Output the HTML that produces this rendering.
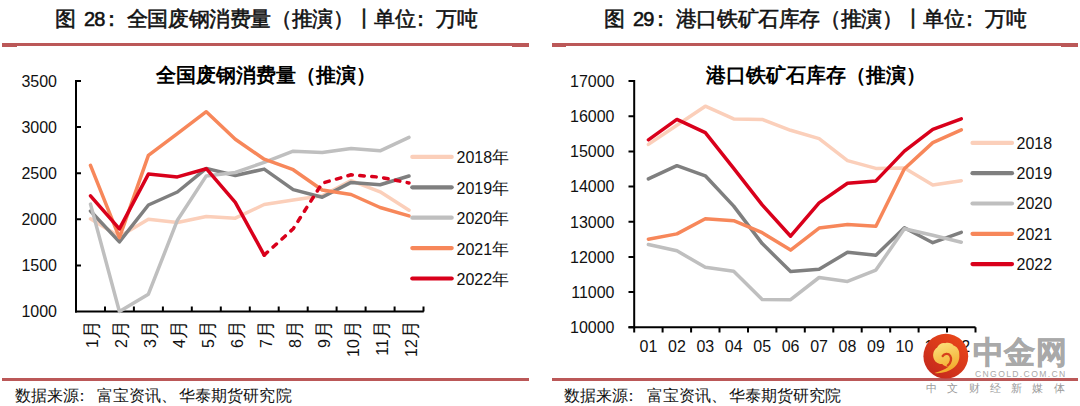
<!DOCTYPE html>
<html><head><meta charset="utf-8"><style>
html,body{margin:0;padding:0;background:#fff;}
body{width:1080px;height:406px;position:relative;overflow:hidden;font-family:"Liberation Sans",sans-serif;}
.t{position:absolute;top:5px;height:28px;line-height:28px;font-size:21px;letter-spacing:-0.37px;font-weight:normal;-webkit-text-stroke:0.55px #111;white-space:nowrap;color:#111;}
.d{font-size:20px;letter-spacing:-0.8px;}
.ct{position:absolute;top:61px;line-height:28px;font-size:19.5px;font-weight:bold;white-space:nowrap;color:#000;}
.hl{position:absolute;background:#bb5858;}
.src{position:absolute;top:385px;line-height:22px;font-size:16px;white-space:nowrap;color:#111;}
svg{position:absolute;left:0;top:0;}
.n{font-size:16px;fill:#111;font-family:"Liberation Sans",sans-serif;}
</style></head><body>
<div class="t" style="left:55px">图</div><div class="t d" style="left:84px">28</div><div class="t" style="left:106px"><span style="position:relative;left:-5.5px">：</span>全国废钢消费量（推演）丨单位<span style="position:relative;left:-5.5px">：</span>万吨</div>
<div class="t" style="left:604px">图</div><div class="t d" style="left:633px">29</div><div class="t" style="left:655px"><span style="position:relative;left:-5.5px">：</span>港口铁矿石库存（推演）丨单位<span style="position:relative;left:-5.5px">：</span>万吨</div>
<div class="hl" style="left:2px;top:43px;width:527px;height:3px"></div>
<div class="hl" style="left:2px;top:46px;width:15px;height:1px"></div>
<div class="hl" style="left:512px;top:46px;width:17px;height:1px"></div>
<div class="hl" style="left:552px;top:43px;width:526px;height:3px"></div>
<div class="hl" style="left:552px;top:46px;width:14px;height:1px"></div>
<div class="hl" style="left:1061px;top:46px;width:17px;height:1px"></div>
<div class="ct" style="left:156px">全国废钢消费量（推演）</div>
<div class="ct" style="left:706px">港口铁矿石库存（推演）</div>
<svg width="1080" height="406" viewBox="0 0 1080 406">
<path d="M76 80.9H81 M76 80V312.5" stroke="#000" stroke-width="2" fill="none"/>
<path d="M76 81.0H81M76 127.1H81M76 173.2H81M76 219.3H81M76 265.4H81" stroke="#000" stroke-width="2" fill="none"/>
<path d="M75 311.5H423.8M105.0 311.5V306.5M133.9 311.5V306.5M162.9 311.5V306.5M191.8 311.5V306.5M220.8 311.5V306.5M249.8 311.5V306.5M278.7 311.5V306.5M307.7 311.5V306.5M336.6 311.5V306.5M365.6 311.5V306.5M394.6 311.5V306.5M423.5 311.5V306.5" stroke="#000" stroke-width="2" fill="none"/>
<polyline points="90.5,218.8 119.4,236.4 148.4,219.3 177.4,222.5 206.3,216.5 235.3,218.2 264.2,204.5 293.2,200.1 322.2,195.8 351.1,180.6 380.1,191.8 409.0,210.2" fill="none" stroke="#fbcfba" stroke-width="3.5" stroke-linejoin="round" stroke-linecap="round" />
<polyline points="90.5,211.0 119.4,241.9 148.4,205.0 177.4,192.0 206.3,168.4 235.3,175.5 264.2,169.1 293.2,189.6 322.2,197.2 351.1,182.4 380.1,184.7 409.0,176.0" fill="none" stroke="#7f7f7f" stroke-width="3.5" stroke-linejoin="round" stroke-linecap="round" />
<polyline points="90.5,204.1 119.4,311.5 148.4,294.2 177.4,220.2 206.3,175.9 235.3,172.5 264.2,162.4 293.2,151.2 322.2,152.5 351.1,148.5 380.1,150.8 409.0,137.4" fill="none" stroke="#bfbfbf" stroke-width="3.5" stroke-linejoin="round" stroke-linecap="round" />
<polyline points="90.5,165.4 119.4,237.7 148.4,155.3 177.4,133.6 206.3,111.7 235.3,139.3 264.2,159.2 293.2,169.7 322.2,190.0 351.1,194.5 380.1,207.5 409.0,215.9" fill="none" stroke="#f7875a" stroke-width="3.5" stroke-linejoin="round" stroke-linecap="round" />
<polyline points="90.5,195.8 119.4,228.9 148.4,174.1 177.4,176.9 206.3,168.7 235.3,202.3 264.2,255.1" fill="none" stroke="#d9001b" stroke-width="3.5" stroke-linejoin="round" stroke-linecap="round" />
<polyline points="264.2,255.1 293.2,228.8 322.2,183.2 351.1,174.8 380.1,177.2 409.0,183.0" fill="none" stroke="#d9001b" stroke-width="3.5" stroke-linejoin="round" stroke-linecap="round" stroke-dasharray="4.5,7.5"/>
<text x="57" y="86.7" text-anchor="end" class="n">3500</text>
<text x="57" y="132.8" text-anchor="end" class="n">3000</text>
<text x="57" y="178.9" text-anchor="end" class="n">2500</text>
<text x="57" y="225.0" text-anchor="end" class="n">2000</text>
<text x="57" y="271.1" text-anchor="end" class="n">1500</text>
<text x="57" y="317.2" text-anchor="end" class="n">1000</text>
<text transform="translate(98.2,320.2) rotate(-90)" text-anchor="end" class="n">1<tspan style="font-size:19px">月</tspan></text>
<text transform="translate(127.1,320.2) rotate(-90)" text-anchor="end" class="n">2<tspan style="font-size:19px">月</tspan></text>
<text transform="translate(156.1,320.2) rotate(-90)" text-anchor="end" class="n">3<tspan style="font-size:19px">月</tspan></text>
<text transform="translate(185.1,320.2) rotate(-90)" text-anchor="end" class="n">4<tspan style="font-size:19px">月</tspan></text>
<text transform="translate(214.0,320.2) rotate(-90)" text-anchor="end" class="n">5<tspan style="font-size:19px">月</tspan></text>
<text transform="translate(243.0,320.2) rotate(-90)" text-anchor="end" class="n">6<tspan style="font-size:19px">月</tspan></text>
<text transform="translate(271.9,320.2) rotate(-90)" text-anchor="end" class="n">7<tspan style="font-size:19px">月</tspan></text>
<text transform="translate(300.9,320.2) rotate(-90)" text-anchor="end" class="n">8<tspan style="font-size:19px">月</tspan></text>
<text transform="translate(329.9,320.2) rotate(-90)" text-anchor="end" class="n">9<tspan style="font-size:19px">月</tspan></text>
<text transform="translate(358.8,320.2) rotate(-90)" text-anchor="end" class="n">10<tspan style="font-size:19px">月</tspan></text>
<text transform="translate(387.8,320.2) rotate(-90)" text-anchor="end" class="n">11<tspan style="font-size:19px">月</tspan></text>
<text transform="translate(416.7,320.2) rotate(-90)" text-anchor="end" class="n">12<tspan style="font-size:19px">月</tspan></text>
<path d="M412.3 156.9H451.7" stroke="#fbcfba" stroke-width="4.2" stroke-linecap="round"/>
<text x="456.5" y="163.4" class="n">2018<tspan style="font-size:17px">年</tspan></text>
<path d="M412.3 187.3H451.7" stroke="#7f7f7f" stroke-width="4.2" stroke-linecap="round"/>
<text x="456.5" y="193.8" class="n">2019<tspan style="font-size:17px">年</tspan></text>
<path d="M412.3 217.7H451.7" stroke="#bfbfbf" stroke-width="4.2" stroke-linecap="round"/>
<text x="456.5" y="224.2" class="n">2020<tspan style="font-size:17px">年</tspan></text>
<path d="M412.3 248.1H451.7" stroke="#f7875a" stroke-width="4.2" stroke-linecap="round"/>
<text x="456.5" y="254.6" class="n">2021<tspan style="font-size:17px">年</tspan></text>
<path d="M412.3 278.5H451.7" stroke="#d9001b" stroke-width="4.2" stroke-linecap="round"/>
<text x="456.5" y="285.0" class="n">2022<tspan style="font-size:17px">年</tspan></text>
<path d="M634.2 80V328.3M628.5 327.3H634.2M628.5 292.1H634.2M628.5 256.9H634.2M628.5 221.8H634.2M628.5 186.6H634.2M628.5 151.4H634.2M628.5 116.2H634.2M628.5 81.0H634.2" stroke="#000" stroke-width="2" fill="none"/>
<path d="M628.5 327.3H975.5M634.2 327.3V332.5M662.6 327.3V332.5M691.1 327.3V332.5M719.5 327.3V332.5M748.0 327.3V332.5M776.4 327.3V332.5M804.8 327.3V332.5M833.3 327.3V332.5M861.7 327.3V332.5M890.2 327.3V332.5M918.6 327.3V332.5M947.0 327.3V332.5M975.5 327.3V332.5" stroke="#000" stroke-width="2" fill="none"/>
<polyline points="648.4,144.4 676.9,125.2 705.3,106.2 733.7,118.9 762.2,119.4 790.6,130.3 819.1,138.6 847.5,160.6 875.9,168.4 904.4,168.0 932.8,185.0 961.3,180.7" fill="none" stroke="#fbcfba" stroke-width="3.5" stroke-linejoin="round" stroke-linecap="round" />
<polyline points="648.4,178.9 676.9,165.7 705.3,175.8 733.7,206.1 762.2,243.6 790.6,271.5 819.1,269.3 847.5,252.3 875.9,255.2 904.4,227.7 932.8,242.7 961.3,232.3" fill="none" stroke="#7f7f7f" stroke-width="3.5" stroke-linejoin="round" stroke-linecap="round" />
<polyline points="648.4,244.5 676.9,250.8 705.3,267.3 733.7,271.3 762.2,299.5 790.6,299.7 819.1,277.5 847.5,281.4 875.9,270.1 904.4,228.8 932.8,235.3 961.3,242.2" fill="none" stroke="#bfbfbf" stroke-width="3.5" stroke-linejoin="round" stroke-linecap="round" />
<polyline points="648.4,239.2 676.9,233.9 705.3,218.8 733.7,220.7 762.2,232.7 790.6,250.1 819.1,228.1 847.5,224.4 875.9,226.3 904.4,168.7 932.8,142.6 961.3,129.8" fill="none" stroke="#f7875a" stroke-width="3.5" stroke-linejoin="round" stroke-linecap="round" />
<polyline points="648.4,139.8 676.9,119.4 705.3,132.6 733.7,168.3 762.2,204.9 790.6,236.2 819.1,202.9 847.5,183.2 875.9,180.9 904.4,151.1 932.8,129.4 961.3,118.9" fill="none" stroke="#d9001b" stroke-width="3.5" stroke-linejoin="round" stroke-linecap="round" />
<text x="614.5" y="333.0" text-anchor="end" class="n">10000</text>
<text x="614.5" y="297.8" text-anchor="end" class="n">11000</text>
<text x="614.5" y="262.6" text-anchor="end" class="n">12000</text>
<text x="614.5" y="227.5" text-anchor="end" class="n">13000</text>
<text x="614.5" y="192.3" text-anchor="end" class="n">14000</text>
<text x="614.5" y="157.1" text-anchor="end" class="n">15000</text>
<text x="614.5" y="121.9" text-anchor="end" class="n">16000</text>
<text x="614.5" y="86.7" text-anchor="end" class="n">17000</text>
<text x="648.4" y="351.5" text-anchor="middle" class="n">01</text>
<text x="676.9" y="351.5" text-anchor="middle" class="n">02</text>
<text x="705.3" y="351.5" text-anchor="middle" class="n">03</text>
<text x="733.7" y="351.5" text-anchor="middle" class="n">04</text>
<text x="762.2" y="351.5" text-anchor="middle" class="n">05</text>
<text x="790.6" y="351.5" text-anchor="middle" class="n">06</text>
<text x="819.1" y="351.5" text-anchor="middle" class="n">07</text>
<text x="847.5" y="351.5" text-anchor="middle" class="n">08</text>
<text x="875.9" y="351.5" text-anchor="middle" class="n">09</text>
<text x="904.4" y="351.5" text-anchor="middle" class="n">10</text>
<text x="932.8" y="351.5" text-anchor="middle" class="n">11</text>
<text x="961.3" y="351.5" text-anchor="middle" class="n">12</text>
<path d="M972.5 142.9H1012" stroke="#fbcfba" stroke-width="4.2" stroke-linecap="round"/>
<text x="1016.5" y="148.6" class="n">2018</text>
<path d="M972.5 173.2H1012" stroke="#7f7f7f" stroke-width="4.2" stroke-linecap="round"/>
<text x="1016.5" y="178.9" class="n">2019</text>
<path d="M972.5 203.5H1012" stroke="#bfbfbf" stroke-width="4.2" stroke-linecap="round"/>
<text x="1016.5" y="209.2" class="n">2020</text>
<path d="M972.5 233.8H1012" stroke="#f7875a" stroke-width="4.2" stroke-linecap="round"/>
<text x="1016.5" y="239.5" class="n">2021</text>
<path d="M972.5 264.1H1012" stroke="#d9001b" stroke-width="4.2" stroke-linecap="round"/>
<text x="1016.5" y="269.8" class="n">2022</text>
</svg>
<div class="hl" style="left:2px;top:378px;width:527px;height:3px"></div>
<div class="hl" style="left:552px;top:378px;width:526px;height:3px"></div>
<svg width="1080" height="406" viewBox="0 0 1080 406" style="position:absolute;left:0;top:0">
<defs>
<linearGradient id="rg" x1="0.8" y1="0.1" x2="0.2" y2="0.9"><stop offset="0" stop-color="#e8461a"/><stop offset="1" stop-color="#c62a1c"/></linearGradient>
<linearGradient id="yg" x1="0.3" y1="0" x2="0.6" y2="1"><stop offset="0" stop-color="#fbe07a"/><stop offset="1" stop-color="#f2a625"/></linearGradient>
</defs>
<circle cx="945.8" cy="356.2" r="22.4" fill="url(#rg)"/>
<path d="M934.4 373 C940 371.5 945 369.5 948.5 366.8 C945.5 366.5 943 365.5 942.3 364 C938.5 364.5 934.5 362 933.4 357.5 C932.5 353 934.5 349 937 347.8 C938.5 344.5 942 342.6 945 343.2 C948.5 342.3 952 343.2 953.5 345.5 C957 346.5 959.5 350 959.3 354.5 C959.8 359.5 958 364 954.6 367 C949 371.8 941 373.8 934.4 373 Z" fill="url(#yg)"/>
<path d="M942.7 356 C944.3 353.6 948.3 353 950.2 355.8 C951.8 358.3 951.2 362.5 947.9 365.4" fill="none" stroke="#d6401c" stroke-width="2.3" stroke-linecap="round"/>
</svg>
<div style="position:absolute;left:973px;top:333px;font-family:'Liberation Serif',serif;font-size:31px;line-height:40px;font-weight:bold;color:#a9a9a9;letter-spacing:0.3px;-webkit-text-stroke:0.6px #a9a9a9;white-space:nowrap">中金网</div>
<div style="position:absolute;left:975px;top:368px;font-size:8.6px;line-height:12px;color:#a8a8a8;letter-spacing:1.35px;white-space:nowrap">CNGOLD.COM.CN</div>
<div style="position:absolute;left:926px;top:380.5px;font-size:11px;line-height:14px;color:#9a9a9a;letter-spacing:10.3px;white-space:nowrap">中文财经新媒体</div>
<div class="src" style="left:14.5px">数据来源<span style="position:relative;left:-5px">：</span></div><div class="src" style="left:97px">富宝资讯、</div><div class="src" style="left:179px;letter-spacing:0.1px">华泰期货研究院</div>
<div class="src" style="left:564px">数据来源<span style="position:relative;left:-5px">：</span></div><div class="src" style="left:646.5px">富宝资讯、</div><div class="src" style="left:728.5px;letter-spacing:0.1px">华泰期货研究院</div>
</body></html>
